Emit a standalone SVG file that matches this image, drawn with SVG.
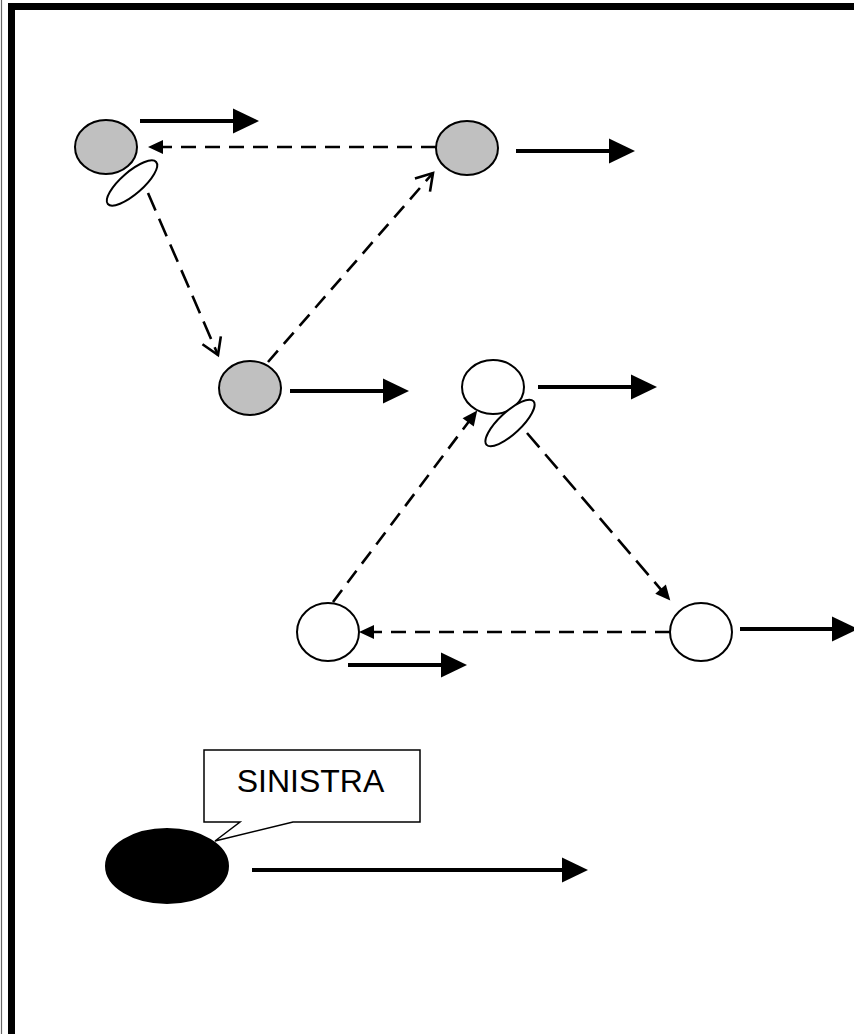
<svg xmlns="http://www.w3.org/2000/svg" width="854" height="1034" viewBox="0 0 854 1034">
  <style>
    .node { stroke: #000; stroke-width: 2; }
    .gray { fill: #c0c0c0; }
    .white { fill: #fff; }
    .black { fill: #000; }
    .solid { stroke: #000; stroke-width: 4; fill: none; }
    .dash { stroke: #000; stroke-width: 2.6; fill: none; stroke-dasharray: 15 9; }
    .dashlong { stroke: #000; stroke-width: 2.6; fill: none; stroke-dasharray: 19 9; }
    .label { font-family: "Liberation Sans", Arial, sans-serif; font-size: 32px; fill: #000; }
  </style>
  <defs>
    <marker id="big" markerUnits="userSpaceOnUse" markerWidth="27" markerHeight="26" refX="0" refY="12.5" orient="auto" overflow="visible">
      <path d="M0,0 L26,12.5 L0,25 Z" fill="#000" stroke="none"/>
    </marker>
    <marker id="small" markerUnits="userSpaceOnUse" markerWidth="16" markerHeight="15" refX="13" refY="7" orient="auto" overflow="visible">
      <path d="M0,0 L15,7 L0,14 Z" fill="#000" stroke="none"/>
    </marker>
    <marker id="open" markerUnits="userSpaceOnUse" markerWidth="20" markerHeight="22" refX="17" refY="10" orient="auto" overflow="visible">
      <path d="M1,0 L17,10 L1,20" fill="none" stroke="#000" stroke-width="2.6" stroke-dasharray="none"/>
    </marker>
  </defs>

  <rect width="854" height="1034" fill="#fff"/>

  <g id="border">
    <line x1="1.5" y1="0" x2="1.5" y2="1034" stroke="#666" stroke-width="1.2"/>
    <rect x="8" y="3" width="7" height="1031" fill="#000"/>
    <rect x="8" y="3" width="846" height="7" fill="#000"/>
  </g>

  <g id="connectors">
    <line class="solid" x1="140" y1="121" x2="233" y2="121" marker-end="url(#big)"/>
    <line class="solid" x1="516" y1="151" x2="609" y2="151" marker-end="url(#big)"/>
    <line class="solid" x1="290" y1="391" x2="383" y2="391" marker-end="url(#big)"/>
    <line class="solid" x1="538" y1="387" x2="631" y2="387" marker-end="url(#big)"/>
    <line class="solid" x1="348" y1="665" x2="441" y2="665" marker-end="url(#big)"/>
    <line class="solid" x1="740" y1="629" x2="832" y2="629" marker-end="url(#big)"/>
    <line class="solid" x1="252" y1="870" x2="562" y2="870" marker-end="url(#big)"/>

    <line class="dash" x1="436" y1="147" x2="150" y2="147" marker-end="url(#small)"/>
    <line class="dashlong" x1="148" y1="193" x2="218" y2="355" marker-end="url(#open)"/>
    <line class="dash" x1="268" y1="362" x2="433" y2="173" marker-end="url(#open)"/>
    <line class="dash" x1="333" y1="602" x2="476" y2="412" marker-end="url(#small)"/>
    <line class="dashlong" x1="527" y1="433" x2="669" y2="599" marker-end="url(#small)"/>
    <line class="dash" x1="670" y1="632" x2="361" y2="632" marker-end="url(#small)"/>
  </g>

  <g id="node-g1">
    <ellipse class="node gray" cx="106" cy="147" rx="31" ry="27"/>
  </g>
  <g id="node-s1">
    <ellipse class="node white" cx="0" cy="0" rx="32" ry="11" transform="translate(132,183) rotate(-41)"/>
  </g>
  <g id="node-g2">
    <ellipse class="node gray" cx="467" cy="148" rx="31" ry="27"/>
  </g>
  <g id="node-g3">
    <ellipse class="node gray" cx="250" cy="388" rx="31" ry="27"/>
  </g>
  <g id="node-w4">
    <ellipse class="node white" cx="493" cy="387" rx="31" ry="27"/>
  </g>
  <g id="node-s2">
    <ellipse class="node white" cx="0" cy="0" rx="32" ry="11" transform="translate(510,423) rotate(-43)"/>
  </g>
  <g id="node-w5">
    <ellipse class="node white" cx="328" cy="632" rx="31" ry="29"/>
  </g>
  <g id="node-w6">
    <ellipse class="node white" cx="701" cy="632" rx="31" ry="29"/>
  </g>
  <g id="node-black">
    <ellipse class="node black" cx="167" cy="866" rx="61" ry="37"/>
  </g>
  <g id="callout">
    <path d="M204,750 H420 V822 H293 L215,841 L240,822 H204 Z" fill="#fff" stroke="#000" stroke-width="1.5"/>
    <text class="label" x="310.5" y="792" text-anchor="middle">SINISTRA</text>
  </g>
</svg>
